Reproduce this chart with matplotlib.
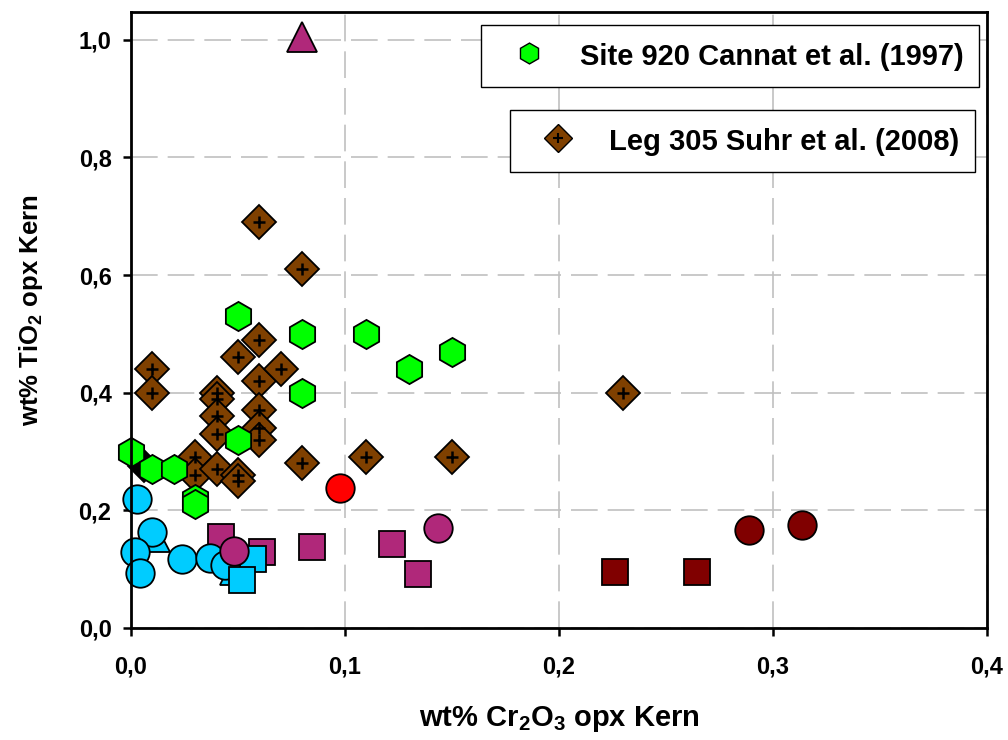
import matplotlib
matplotlib.use("Agg")
import matplotlib.pyplot as plt
from matplotlib.lines import Line2D
from matplotlib.ticker import FuncFormatter, MultipleLocator

plt.rcParams['font.family'] = ['Liberation Sans', 'DejaVu Sans']
plt.rcParams['font.weight'] = 'bold'
plt.rcParams['mathtext.fontset'] = 'custom'
plt.rcParams['mathtext.rm'] = 'Liberation Sans:bold'
plt.rcParams['mathtext.default'] = 'rm'

# Site 920 Cannat et al. (1997)
cannat_x = [0.00, 0.01, 0.02, 0.03, 0.03, 0.05, 0.05, 0.08, 0.08, 0.11, 0.13, 0.15]
cannat_y = [0.30, 0.27, 0.27, 0.22, 0.21, 0.32, 0.53, 0.50, 0.40, 0.50, 0.44, 0.47]

# Leg 305 Suhr et al. (2008)
suhr_x = [0.01, 0.01, 0.03, 0.03, 0.04, 0.04, 0.04, 0.04, 0.04, 0.05, 0.05, 0.05,
          0.06, 0.06, 0.06, 0.06, 0.06, 0.06, 0.07, 0.08, 0.08, 0.11, 0.15, 0.23]
suhr_y = [0.44, 0.40, 0.29, 0.26, 0.40, 0.39, 0.36, 0.33, 0.27, 0.46, 0.26, 0.25,
          0.69, 0.49, 0.42, 0.37, 0.34, 0.32, 0.44, 0.61, 0.28, 0.29, 0.29, 0.40]

# eigene Messungen
black_x = [0.006]
black_y = [0.275]
cyan_circ_x = [0.003, 0.010, 0.002, 0.004, 0.024, 0.037, 0.044]
cyan_circ_y = [0.220, 0.163, 0.129, 0.094, 0.117, 0.119, 0.107]
cyan_tri_x = [0.012, 0.047]
cyan_tri_y = [0.152, 0.095]
cyan_sq_x = [0.057, 0.052]
cyan_sq_y = [0.117, 0.082]
mag_sq_x = [0.042, 0.061, 0.0846, 0.122, 0.134]
mag_sq_y = [0.155, 0.130, 0.138, 0.143, 0.092]
mag_circ_x = [0.048, 0.1435]
mag_circ_y = [0.131, 0.170]
mag_tri_x = [0.080]
mag_tri_y = [1.005]
red_x = [0.0975]
red_y = [0.238]
dred_circ_x = [0.289, 0.3137]
dred_circ_y = [0.167, 0.175]
dred_sq_x = [0.226, 0.2645]
dred_sq_y = [0.096, 0.095]

green = '#00FF00'
brown = '#7F4000'
cyan = '#00CCFF'
magenta = '#B0287A'
red = '#FF0000'
darkred = '#800000'

fig = plt.figure(figsize=(10.08, 7.40), dpi=100)
ax = fig.add_axes([131 / 1008, 112 / 740, 856 / 1008, 616.5 / 740])

mew = 1.3
kw = dict(linestyle='none', markeredgecolor='black', markeredgewidth=mew, clip_on=False)

ax.plot(black_x, black_y, marker='D', markersize=16, markerfacecolor='black', **kw)
ax.plot(suhr_x, suhr_y, marker='D', markersize=17.5, markerfacecolor=brown, **kw)
ax.plot(suhr_x, suhr_y, linestyle='none', marker='+', markersize=8,
        markeredgewidth=1.8, color='black', clip_on=False)
ax.plot(cannat_x, cannat_y, marker='h', markersize=21, markerfacecolor=green, **kw)
ax.plot(mag_sq_x, mag_sq_y, marker='s', markersize=18.5, markerfacecolor=magenta, **kw)
ax.plot(cyan_tri_x, cyan_tri_y, marker='^', markersize=18, markerfacecolor=cyan, **kw)
ax.plot(cyan_circ_x, cyan_circ_y, marker='o', markersize=20.5, markerfacecolor=cyan, **kw)
ax.plot(cyan_sq_x, cyan_sq_y, marker='s', markersize=18.5, markerfacecolor=cyan, **kw)
ax.plot(mag_circ_x, mag_circ_y, marker='o', markersize=20.5, markerfacecolor=magenta, **kw)
ax.plot(mag_tri_x, mag_tri_y, marker='^', markersize=21, markerfacecolor=magenta, **kw)
ax.plot(red_x, red_y, marker='o', markersize=20.5, markerfacecolor=red, **kw)
ax.plot(dred_circ_x, dred_circ_y, marker='o', markersize=20.5, markerfacecolor=darkred, **kw)
ax.plot(dred_sq_x, dred_sq_y, marker='s', markersize=18.5, markerfacecolor=darkred, **kw)

ax.set_xlim(0, 0.4)
ax.set_ylim(0, 1.048)
ax.xaxis.set_major_locator(MultipleLocator(0.1))
ax.yaxis.set_major_locator(MultipleLocator(0.2))
komma = FuncFormatter(lambda v, pos: f"{v:.1f}".replace('.', ','))
ax.xaxis.set_major_formatter(komma)
ax.yaxis.set_major_formatter(komma)

ax.grid(True, color='#C0C0C0', linewidth=1.2, linestyle=(0, (16, 6)))
ax.set_axisbelow(True)
for s in ax.spines.values():
    s.set_linewidth(2.0)
ax.tick_params(direction='out', length=6, width=1.8, labelsize=17)
ax.tick_params(axis='x', pad=14)
ax.tick_params(axis='y', pad=8)

ax.set_xlabel('wt% Cr$_2$O$_3$ opx Kern', fontsize=21, fontweight='bold', labelpad=18)
ax.set_ylabel('wt% TiO$_2$ opx Kern', fontsize=18.5, fontweight='bold')
ax.yaxis.set_label_coords(-0.100, 0.516)

# zwei getrennte Legendenkästen
leg_font = {'weight': 'bold', 'size': 21}
leg_opts = dict(loc='upper left', bbox_transform=fig.transFigure, borderaxespad=0,
                prop=leg_font, fancybox=False, framealpha=1, edgecolor='black',
                borderpad=0.55, handlelength=2.2, handleheight=1.1, handletextpad=0.63)

h1 = Line2D([], [], linestyle='none', marker='h', markersize=15, markerfacecolor=green,
            markeredgecolor='black', markeredgewidth=1)
leg1 = ax.legend([h1], ['Site 920 Cannat et al. (1997)'],
                 bbox_to_anchor=(481 / 1008, 1 - 25 / 740), **leg_opts)
leg1.get_frame().set_linewidth(1.0)
ax.add_artist(leg1)

h2 = Line2D([], [], linestyle='none', marker='D', markersize=14, markerfacecolor=brown,
            markeredgecolor='black', markeredgewidth=1)
h2p = Line2D([], [], linestyle='none', marker='+', markersize=7, markeredgewidth=1.5,
             color='black')
leg2 = ax.legend([(h2, h2p)], ['Leg 305 Suhr et al. (2008)'],
                 bbox_to_anchor=(510 / 1008, 1 - 110 / 740), **leg_opts)
leg2.get_frame().set_linewidth(1.0)

fig.savefig('out.png', dpi=100)
